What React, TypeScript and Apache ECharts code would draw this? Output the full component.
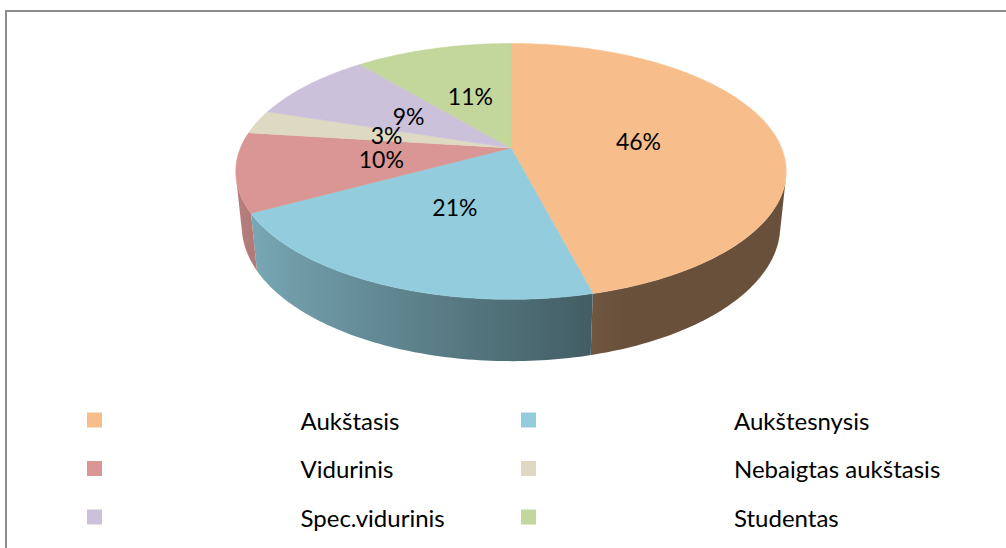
import React, { useEffect, useRef } from "react";
import * as echarts from "echarts";

const categories = ["Aukštasis", "Aukštesnysis", "Vidurinis", "Nebaigtas aukštasis", "Spec.vidurinis", "Studentas"];
const values = [46, 21, 10, 3, 9, 11];
const colors = ["#F7BE8C", "#93CDDD", "#D99694", "#DDD9C3", "#CCC1DA", "#C3D69B"];

// projection parameters (3D tilted pie with perspective)
const CX = 511, CY = 148, F = 1315, D = 4.86, S = 0.457, C = 0.889, H = 0.229;
const FONT = "Lato, 'Noto Sans', sans-serif";

function proj(deg: number, r: number, h: number): number[] {
  const t = (deg * Math.PI) / 180;
  const X = r * Math.sin(t);
  const d = -r * Math.cos(t);
  const Y = d * S + h * C;
  const Z = D - d * C + h * S;
  return [CX + (F * X) / Z, CY + (F * Y) / Z];
}

function shade(hex: string, k: number): string {
  const n = parseInt(hex.slice(1), 16);
  const r = Math.round(((n >> 16) & 255) * k);
  const g = Math.round(((n >> 8) & 255) * k);
  const b = Math.round((n & 255) * k);
  return `rgb(${r},${g},${b})`;
}

function shadeK(deg: number): number {
  const m = (deg * Math.PI) / 180;
  return Math.min(0.86, Math.max(0.42, 0.535 - 0.325 * Math.sin(m)));
}

const total = values.reduce((a, b) => a + b, 0);
function angles(i: number): number[] {
  let s = 0;
  for (let j = 0; j < i; j++) s += values[j];
  return [(s / total) * 360, ((s + values[i]) / total) * 360];
}

const VIS_MIN = (Math.acos(-1 / (D * C)) * 180) / Math.PI;
const VIS_MAX = 360 - VIS_MIN;

export default function App() {
  const ref = useRef<HTMLDivElement>(null);
  useEffect(() => {
    if (!ref.current) return;
    const chart = echarts.init(ref.current, undefined, { renderer: "svg" });

    const legendGraphics: any[] = [];
    categories.forEach((name, i) => {
      const col = i % 2;
      const row = Math.floor(i / 2);
      const yc = 420 + row * 48.5;
      legendGraphics.push({
        type: "rect",
        shape: { x: col ? 521 : 87, y: yc - 7.5, width: 15, height: 15 },
        style: { fill: colors[i] },
      });
      legendGraphics.push({
        type: "text",
        x: col ? 734 : 300.5,
        y: yc,
        style: { text: name, fill: "#000", font: `24px ${FONT}`, textVerticalAlign: "middle", textAlign: "left" },
      });
    });

    const option: any = {
      animation: false,
      graphic: [
        {
          type: "rect",
          shape: { x: 6, y: 11, width: 1030, height: 570 },
          style: { fill: "none", stroke: "#8C8C8C", lineWidth: 2 },
        },
        ...legendGraphics,
      ],
      series: [
        {
          type: "custom",
          name: "walls",
          coordinateSystem: "none",
          z: 1,
          data: values,
          renderItem: (params: any) => {
            const i = params.dataIndex;
            const [a0, a1] = angles(i);
            const s = Math.max(a0, VIS_MIN);
            const e = Math.min(a1, VIS_MAX);
            if (e <= s) return { type: "group", children: [] };
            const topPts: number[][] = [];
            const botPts: number[][] = [];
            const samples: { x: number; k: number }[] = [];
            for (let a = s; ; a += 1) {
              const aa = Math.min(a, e);
              const p = proj(aa, 1, 0);
              topPts.push(p);
              botPts.push(proj(aa, 1, H));
              samples.push({ x: p[0], k: shadeK(aa) });
              if (aa >= e) break;
            }
            const xs = samples.map((q) => q.x);
            const xmin = Math.min(...xs);
            const xmax = Math.max(...xs);
            const span = Math.max(1, xmax - xmin);
            const stops = samples
              .map((q) => ({ offset: (q.x - xmin) / span, color: shade(colors[i], q.k) }))
              .sort((u, v) => u.offset - v.offset);
            const pts = topPts.concat(botPts.reverse());
            return {
              type: "polygon",
              shape: { points: pts },
              style: {
                fill: { type: "linear", x: xmin, y: 0, x2: xmin + span, y2: 0, colorStops: stops, global: true },
                lineWidth: 0,
              },
            };
          },
        },
        {
          type: "custom",
          name: "tops",
          coordinateSystem: "none",
          z: 2,
          data: values,
          renderItem: (params: any) => {
            const i = params.dataIndex;
            const [a0, a1] = angles(i);
            const pts: number[][] = [proj(0, 0, 0)];
            for (let a = a0; a < a1; a += 1) pts.push(proj(a, 1, 0));
            pts.push(proj(a1, 1, 0));
            return {
              type: "polygon",
              shape: { points: pts },
              style: { fill: colors[i], stroke: colors[i], lineWidth: 0.5 },
            };
          },
        },
        {
          type: "custom",
          name: "labels",
          coordinateSystem: "none",
          z: 3,
          data: values,
          renderItem: (params: any, api: any) => {
            const i = params.dataIndex;
            const [a0, a1] = angles(i);
            const p = proj((a0 + a1) / 2, 0.48, 0);
            const pct = Math.round((api.value(0) / total) * 100);
            return {
              type: "text",
              x: p[0],
              y: p[1],
              style: { text: `${pct}%`, fill: "#000", font: `23px ${FONT}`, textAlign: "center", textVerticalAlign: "middle" },
            };
          },
        },
      ],
    };
    chart.setOption(option);
    return () => chart.dispose();
  }, []);
  return <div ref={ref} style={{ position: "absolute", left: 0, top: 0, width: 1006, height: 548 }} />;
}
